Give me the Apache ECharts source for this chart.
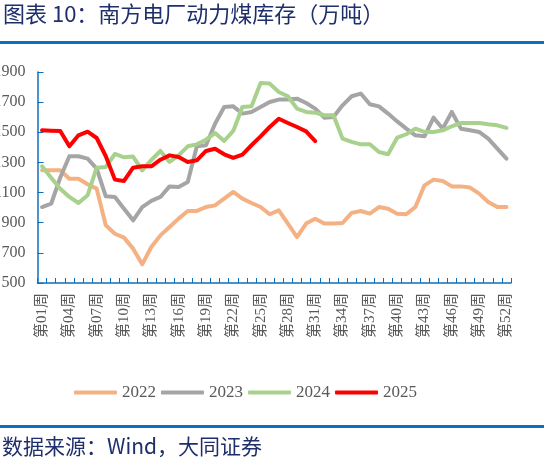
<!DOCTYPE html>
<html>
<head>
<meta charset="utf-8">
<script src="https://cdn.jsdelivr.net/npm/echarts@6/dist/echarts.min.js"></script>
<style>
html,body{margin:0;padding:0;background:#fff;}
#c{width:544px;height:468px;}
</style>
</head>
<body>
<div id="c"></div>
<script>
var weeks = [];
for (var i = 1; i <= 52; i++) { weeks.push('第' + (i < 10 ? '0' + i : '' + i) + '周'); }

var seriesNames = ['2022', '2023', '2024', '2025'];

var v2022 = [1248,1248,1248,1192,1192,1155,1126,883,827,801,728,624,739,816,872,927,978,978,1004,1015,1060,1104,1060,1031,1004,956,982,894,805,894,927,894,894,898,965,978,960,1004,993,960,956,1004,1148,1186,1177,1141,1141,1133,1093,1038,1004,1004];
var v2023 = [1004,1026,1200,1341,1341,1325,1259,1075,1071,993,916,1004,1045,1071,1141,1137,1170,1407,1414,1557,1668,1672,1624,1635,1668,1701,1717,1717,1723,1694,1657,1597,1601,1679,1739,1757,1686,1672,1624,1572,1524,1480,1473,1597,1524,1635,1524,1513,1502,1458,1391,1325];
var v2024 = [1274,1199,1126,1071,1031,1082,1265,1270,1356,1334,1339,1247,1316,1376,1303,1347,1407,1420,1451,1495,1442,1509,1668,1672,1827,1823,1767,1739,1657,1635,1630,1613,1613,1458,1436,1420,1420,1369,1354,1464,1487,1524,1502,1502,1513,1540,1562,1562,1562,1553,1546,1529];
var v2025 = [1513,1511,1509,1407,1480,1504,1462,1341,1186,1177,1265,1274,1274,1318,1347,1336,1303,1314,1376,1391,1354,1330,1352,1414,1473,1535,1590,1562,1535,1506,1442];

var colors = ['#F4B183', '#A5A5A5', '#A9D18E', '#FF0000'];
var values = [v2022, v2023, v2024, v2025];

var navy = '#1F2F6B';
var blue = '#0A70C0';
var cjk = '"Noto Sans CJK SC", sans-serif';
var serif = '"Liberation Serif", "Noto Sans CJK SC", serif';

var chart = echarts.init(document.getElementById('c'), null, {renderer: 'canvas'});

var series = seriesNames.map(function (n, k) {
  return {
    name: n,
    type: 'line',
    data: values[k],
    symbol: 'none',
    smooth: false,
    lineStyle: {color: colors[k], width: 4, cap: 'round', join: 'round'},
    itemStyle: {color: colors[k]},
    z: 2 + k
  };
});

chart.setOption({
  animation: false,
  backgroundColor: '#fff',
  grid: {left: 37.5, right: 33, top: 72, bottom: 185, containLabel: false, outerBoundsMode: 'none'},
  legend: {
    data: seriesNames,
    left: 69,
    top: 379,
    icon: 'roundRect',
    itemWidth: 43,
    itemHeight: 4,
    itemGap: 5,
    textStyle: {fontFamily: serif, fontSize: 17, color: '#595959'}
  },
  xAxis: {
    type: 'category',
    data: weeks,
    boundaryGap: true,
    axisLine: {show: true, lineStyle: {color: blue, width: 1.5}},
    axisTick: {show: true, inside: true, length: 5, interval: 0, lineStyle: {color: blue, width: 1}},
    axisLabel: {
      interval: 2,
      rotate: 90,
      margin: 10,
      fontFamily: serif,
      fontSize: 15,
      color: '#595959'
    },
    splitLine: {show: false}
  },
  yAxis: {
    type: 'value',
    min: 500,
    max: 1900,
    interval: 200,
    axisLine: {show: true, lineStyle: {color: blue, width: 1.5}},
    axisTick: {show: true, inside: true, length: 6, lineStyle: {color: blue, width: 1}},
    axisLabel: {margin: 12, fontFamily: serif, fontSize: 16, color: '#595959',
      formatter: function (v) { return String(v); }},
    splitLine: {show: false}
  },
  graphic: [
    {type: 'text', left: 3, top: 3, style: {text: '图表 10：南方电厂动力煤库存（万吨）', font: '22px ' + cjk, fill: navy}},
    {type: 'rect', left: 0, top: 41, shape: {width: 544, height: 3}, style: {fill: blue}},
    {type: 'rect', left: 0, top: 425, shape: {width: 544, height: 3}, style: {fill: blue}},
    {type: 'text', left: 2, top: 436, style: {text: '数据来源：Wind，大同证券', font: '21px ' + cjk, fill: navy}}
  ],
  series: series
});
</script>
</body>
</html>
